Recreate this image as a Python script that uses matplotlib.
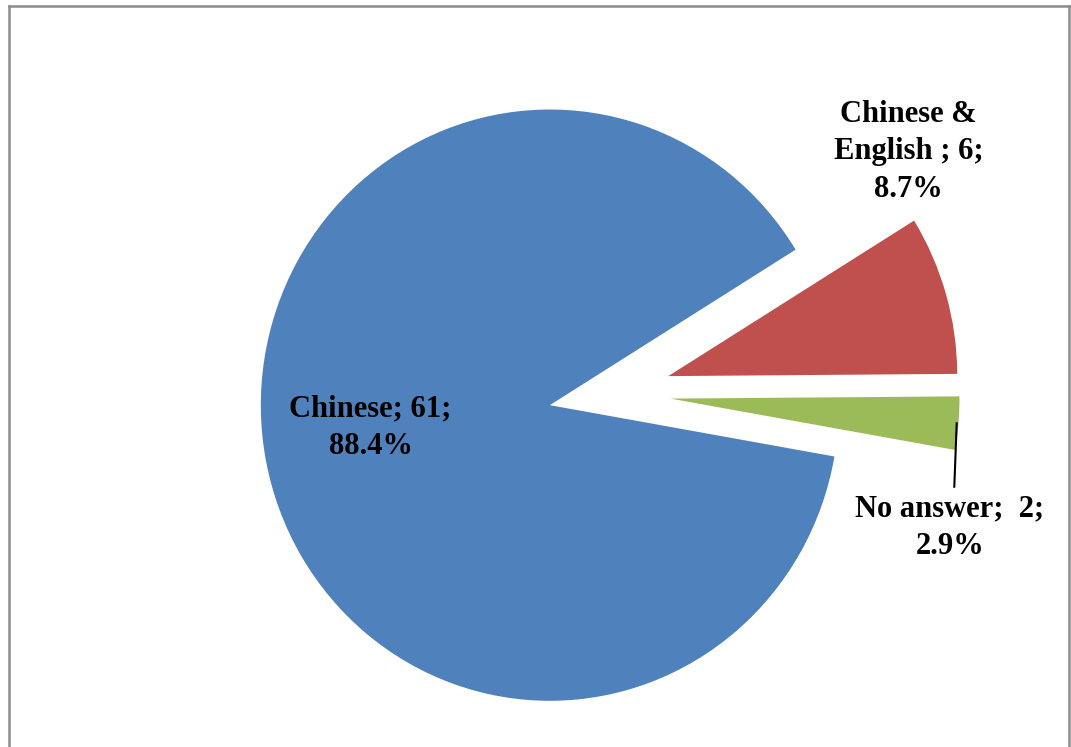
import matplotlib
matplotlib.use("Agg")
import matplotlib.pyplot as plt
from matplotlib.lines import Line2D

# Survey answers: language used
categories = ["Chinese", "Chinese & English ", "No answer"]
counts = [61, 6, 2]
percent_labels = ["88.4%", "8.7%", "2.9%"]
colors = ["#4F81BD", "#C0504D", "#9BBB59"]

W, H = 1071, 747
R_PX = 289.0          # pie radius in pixels
YS = 1.023            # slight vertical stretch of the pie
CX, CY = 609.7, 393.4  # pie centre in pixels (from top-left)

fig = plt.figure(figsize=(W / 100, H / 100), dpi=100)
fig.patch.set_facecolor("white")
ax = fig.add_axes([0, 0, 1, 1])

ax.pie(counts, colors=colors, startangle=-10.0, counterclock=False,
       explode=[0.211] * len(counts), radius=1.0,
       wedgeprops=dict(linewidth=0))
ax.set_aspect("auto")
ax.set_xlim(-CX / R_PX, (W - CX) / R_PX)
ax.set_ylim(-(H - CY) / (R_PX * YS), CY / (R_PX * YS))
ax.axis("off")


def fig_xy(x, y):
    return x / W, 1 - y / H


font = dict(family="Liberation Serif", weight="bold", size=22)

label_text = [f"{c}; {n};\n{p}" for c, n, p in zip(categories, counts, percent_labels)]
label_text[1] = "Chinese &\nEnglish ; 6;\n8.7%"
label_text[2] = "No answer;  2;\n2.9%"
label_pos = [(370.5, 394.5), (908.8, 99.5), (950.0, 494.5)]

for txt, (x, y) in zip(label_text, label_pos):
    fig.text(*fig_xy(x, y), txt, ha="center", va="top", multialignment="center",
             linespacing=1.4, color="black", **font)

# leader line for the small slice
(x0, y0), (x1, y1) = fig_xy(956.7, 423.3), fig_xy(954.3, 486.7)
fig.add_artist(Line2D([x0, x1], [y0, y1], color="black", lw=1.5,
                      transform=fig.transFigure))

# chart frame
frame_color = "#8c8c8c"
for (xa, ya), (xb, yb) in [((9, 760), (9, 5.5)), ((9, 5.5), (1069, 5.5)),
                           ((1069, 5.5), (1069, 760))]:
    pa, pb = fig_xy(xa, ya), fig_xy(xb, yb)
    fig.add_artist(Line2D([pa[0], pb[0]], [pa[1], pb[1]], color=frame_color,
                          lw=1.8, transform=fig.transFigure))

fig.savefig("out.png", dpi=100, facecolor="white")
